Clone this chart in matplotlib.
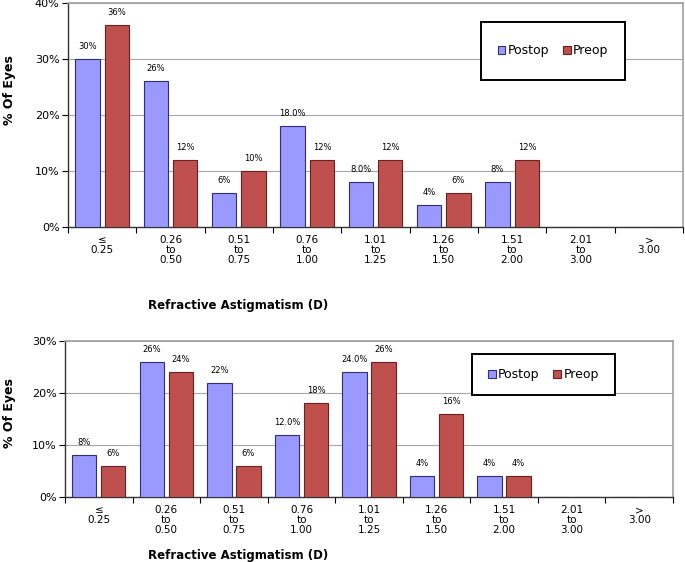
import matplotlib.pyplot as plt
from matplotlib.patches import Rectangle

categories = ["\u2264\n0.25", "0.26\nto\n0.50", "0.51\nto\n0.75", "0.76\nto\n1.00",
              "1.01\nto\n1.25", "1.26\nto\n1.50", "1.51\nto\n2.00", "2.01\nto\n3.00", ">\n3.00"]

top_postop = [30, 26, 6, 18, 8, 4, 8, 0, 0]
top_preop = [36, 12, 10, 12, 12, 6, 12, 0, 0]
top_postop_lbl = ["30%", "26%", "6%", "18.0%", "8.0%", "4%", "8%", "", ""]
top_preop_lbl = ["36%", "12%", "10%", "12%", "12%", "6%", "12%", "", ""]

bot_postop = [8, 26, 22, 12, 24, 4, 4, 0, 0]
bot_preop = [6, 24, 6, 18, 26, 16, 4, 0, 0]
bot_postop_lbl = ["8%", "26%", "22%", "12.0%", "24.0%", "4%", "4%", "", ""]
bot_preop_lbl = ["6%", "24%", "6%", "18%", "26%", "16%", "4%", "", ""]

POST_FACE, POST_EDGE = '#9999FF', '#2E2E7A'
PRE_FACE, PRE_EDGE = '#C0504D', '#6B1F1F'


def panel(ax, postop, preop, post_lbl, pre_lbl, ymax, legbox):
    x = list(range(len(categories)))
    off, w = 0.215, 0.36
    b1 = ax.bar([i - off for i in x], postop, w, color=POST_FACE, edgecolor=POST_EDGE,
                linewidth=0.8, label='Postop', zorder=3)
    b2 = ax.bar([i + off for i in x], preop, w, color=PRE_FACE, edgecolor=PRE_EDGE,
                linewidth=0.8, label='Preop', zorder=3)
    for bars, lbls in ((b1, post_lbl), (b2, pre_lbl)):
        for b, t in zip(bars, lbls):
            if t:
                ax.annotate(t, (b.get_x() + b.get_width() / 2, b.get_height()),
                            xytext=(0, 9), textcoords='offset points',
                            ha='center', va='center', fontsize=6, zorder=4)
    ax.set_xlim(-0.5, len(categories) - 0.5)
    ax.set_ylim(0, ymax)
    ax.set_yticks(range(0, ymax + 1, 10))
    ax.set_yticklabels([f"{v}%" for v in range(0, ymax + 1, 10)], fontsize=8)
    ax.set_xticks([i - 0.5 for i in range(len(categories) + 1)])
    ax.set_xticklabels([])
    ax.set_xticks(x, minor=True)
    ax.set_xticklabels(categories, minor=True, fontsize=7.5, linespacing=1.0)
    ax.tick_params(axis='x', which='major', length=4, direction='out', width=0.8)
    ax.tick_params(axis='x', which='minor', length=0, pad=6)
    ax.tick_params(axis='y', length=4, width=0.8, pad=2)
    ax.grid(axis='y', color='#A6A6A6', linewidth=0.8, zorder=0)
    ax.set_axisbelow(True)
    for s in ('left', 'bottom'):
        ax.spines[s].set_color('#333333')
        ax.spines[s].set_linewidth(1.0)
    for s in ('top', 'right'):
        ax.spines[s].set_color('#A0A0A0')
        ax.spines[s].set_linewidth(1.2)
    cx, cy, bw, bh = legbox
    ax.add_patch(Rectangle((cx - bw / 2, cy - bh / 2), bw, bh, transform=ax.transAxes,
                           facecolor='white', edgecolor='black', linewidth=1.4, zorder=5))
    leg = ax.legend(loc='center', bbox_to_anchor=(cx, cy), ncol=2, frameon=False,
                    fontsize=9, handlelength=0.6, handleheight=0.6, handletextpad=0.2,
                    columnspacing=1.1)
    leg.set_zorder(6)


fig = plt.figure(figsize=(6.85, 5.62), dpi=100)
ax1 = fig.add_axes([68 / 685, 1 - 227 / 562, 615 / 685, 224 / 562])
ax2 = fig.add_axes([65 / 685, 1 - 497 / 562, 608 / 685, 156 / 562])

panel(ax1, top_postop, top_preop, top_postop_lbl, top_preop_lbl, 40,
      (0.789, 0.786, 144 / 615, 58 / 224))
panel(ax2, bot_postop, bot_preop, bot_postop_lbl, bot_preop_lbl, 30,
      (0.787, 0.785, 143 / 608, 41 / 156))

fig.text(10 / 685, 1 - 90 / 562, "% Of Eyes", rotation=90, ha='center', va='center',
         fontsize=9, fontweight='bold')
fig.text(10 / 685, 1 - 413 / 562, "% Of Eyes", rotation=90, ha='center', va='center',
         fontsize=9, fontweight='bold')
fig.text(238 / 685, 1 - 306 / 562, "Refractive Astigmatism (D)", ha='center', va='center',
         fontsize=8.5, fontweight='bold')
fig.text(238 / 685, 1 - 555 / 562, "Refractive Astigmatism (D)", ha='center', va='center',
         fontsize=8.5, fontweight='bold')

fig.savefig('out.png', dpi=100)
